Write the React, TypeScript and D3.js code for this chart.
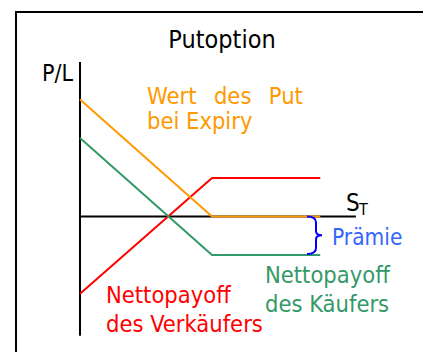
import React from "react";
import * as d3 from "d3";

// Stock price at expiry (S_T), strike = 100
const spot = [0, 100, 182];
// Value of the put at expiry
const putValue = [100, 0, 0];
// Net payoff of the buyer (value minus premium)
const buyerNet = [67, -33, -33];
// Net payoff of the seller (premium minus value)
const sellerNet = [-66, 33, 33];
const premium = 33;

const W = 423;
const H = 352;
const FONT = "'DejaVu Sans Condensed', 'DejaVu Sans', sans-serif";

export default function App() {
  const x = d3.scaleLinear().domain([0, 100]).range([80, 212]);
  const y = d3.scaleLinear().domain([0, 100]).range([216.5, 99.5]);

  const line = (vals: number[]) =>
    d3
      .line<number>()
      .x((_, i) => x(spot[i]))
      .y((d) => y(d))(vals) as string;

  const x0 = x(0);
  const xEnd = x(209);
  const yTop = y(132);
  const yBot = y(-102);
  const y0 = y(0);
  const yP = y(-premium);

  const bx = 307;
  const bTop = y0;
  const bBot = yP - 1;
  const bMid = (bTop + bBot) / 2;
  const brace = `M${bx},${bTop} Q${bx + 9},${bTop} ${bx + 9},${bTop + 6} L${bx + 9},${bMid - 4} Q${bx + 9},${bMid} ${bx + 15},${bMid} Q${bx + 9},${bMid} ${bx + 9},${bMid + 4} L${bx + 9},${bBot - 6} Q${bx + 9},${bBot} ${bx},${bBot}`;

  return (
    <svg
      width={W}
      height={H}
      style={{ position: "absolute", left: 0, top: 0, background: "#fff" }}
      fontFamily={FONT}
      fontStretch="condensed"
    >
      <rect x={16} y={12} width={W + 20} height={H + 20} fill="#fff" stroke="#000" strokeWidth={2} />
      <text x={222} y={48} textAnchor="middle" fontSize={25} fill="#000">
        Putoption
      </text>
      <text x={73} y={81} textAnchor="end" fontSize={23} fill="#000">
        P/L
      </text>
      {/* axes */}
      <line x1={x0} y1={yTop} x2={x0} y2={yBot} stroke="#000" strokeWidth={2} />
      <line x1={x0} y1={y0} x2={xEnd} y2={y0} stroke="#000" strokeWidth={2} />
      <text x={346} y={211} fontSize={24} fill="#000">
        S
      </text>
      <text x={359} y={215} fontSize={16} fill="#000">
        T
      </text>
      {/* series */}
      <path d={line(sellerNet)} fill="none" stroke="#ff0000" strokeWidth={2} />
      <path d={line(buyerNet)} fill="none" stroke="#339966" strokeWidth={2} />
      <path d={line(putValue)} fill="none" stroke="#ff9900" strokeWidth={2} />
      {/* brace */}
      <path d={brace} fill="none" stroke="#0000ff" strokeWidth={2} />
      <text x={332} y={245} fontSize={22.5} fill="#3366ff">
        Prämie
      </text>
      <text x={147} y={104} fontSize={23.5} fill="#ff9900" style={{ whiteSpace: "pre" }} xmlSpace="preserve" wordSpacing={2}>
        Wert  des  Put
      </text>
      <text x={147} y={129} fontSize={23.5} fill="#ff9900">
        bei Expiry
      </text>
      <text x={265} y={283} fontSize={23.5} fill="#339966">
        Nettopayoff
      </text>
      <text x={265} y={312} fontSize={23.5} fill="#339966">
        des Käufers
      </text>
      <text x={106} y={303} fontSize={23.5} fill="#ff0000">
        Nettopayoff
      </text>
      <text x={106} y={332} fontSize={23.5} fill="#ff0000">
        des Verkäufers
      </text>
    </svg>
  );
}
